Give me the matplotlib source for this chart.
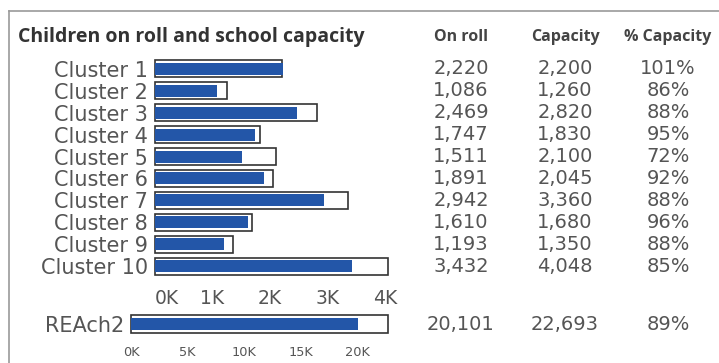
import matplotlib.pyplot as plt
import matplotlib.transforms as mtransforms
from matplotlib.lines import Line2D

clusters = ["Cluster 1", "Cluster 2", "Cluster 3", "Cluster 4", "Cluster 5",
            "Cluster 6", "Cluster 7", "Cluster 8", "Cluster 9", "Cluster 10"]
on_roll = [2220, 1086, 2469, 1747, 1511, 1891, 2942, 1610, 1193, 3432]
capacity = [2200, 1260, 2820, 1830, 2100, 2045, 3360, 1680, 1350, 4048]
pct_capacity = ["101%", "86%", "88%", "95%", "72%", "92%", "88%", "96%", "88%", "85%"]

total_name = "REAch2"
total_on_roll = 20101
total_capacity = 22693
total_pct = "89%"

cluster_ticks = [0, 1000, 2000, 3000, 4000]
cluster_tick_labels = ["0K", "1K", "2K", "3K", "4K"]
total_ticks = [0, 5000, 10000, 15000, 20000]
total_tick_labels = ["0K", "5K", "10K", "15K", "20K"]

plt.rcParams['font.family'] = ['DejaVu Sans']
BOLD = ['Open Sans', 'DejaVu Sans']

W, H = 719, 363
BLUE = "#2356a8"
GREY = "#555555"

fig = plt.figure(figsize=(W / 100, H / 100), dpi=100)


def box(x0, y0, x1, y1):
    # pixel box (top-left origin) -> figure fraction rect
    return [x0 / W, 1 - y1 / H, (x1 - x0) / W, (y1 - y0) / H]


# frame lines
fig.add_artist(Line2D([9 / W, 1], [1 - 11 / H, 1 - 11 / H], color="#9a9a9a", lw=1.2))
fig.add_artist(Line2D([9 / W, 9 / W], [0, 1 - 11 / H], color="#9a9a9a", lw=1.2))

fig.text(18 / W, 1 - 37 / H, "Children on roll and school capacity", family=BOLD,
         fontsize=14, fontweight="bold", color="#333333", va="center")

# cluster bars
ax = fig.add_axes(box(155, 58, 385, 277))
pos = list(range(len(clusters)))
ax.barh(pos, capacity, height=0.78, color="white", edgecolor="#333333",
        linewidth=1.2, clip_on=False)
ax.barh(pos, on_roll, height=0.55, color=BLUE, clip_on=False)
ax.set_xlim(0, 4000)
ax.set_ylim(len(clusters) - 0.5, -0.5)
ax.set_yticks(pos)
ax.set_yticklabels(clusters, fontsize=15, color=GREY)
ax.set_xticks(cluster_ticks)
ax.set_xticklabels(cluster_tick_labels, fontsize=13.5, color=GREY)
ax.get_xticklabels()[0].set_ha("left")
ax.tick_params(axis="y", length=0, pad=5)
ax.tick_params(axis="x", length=0, pad=9)
for s in ax.spines.values():
    s.set_visible(False)

# total bar
ax2 = fig.add_axes(box(131, 313, 391, 335))
ax2.barh([0], [total_capacity], height=0.78, color="white", edgecolor="#333333",
         linewidth=1.2, clip_on=False)
ax2.barh([0], [total_on_roll], height=0.55, color=BLUE, clip_on=False)
ax2.set_xlim(0, 23000)
ax2.set_ylim(0.5, -0.5)
ax2.set_yticks([0])
ax2.set_yticklabels([total_name], fontsize=15, color=GREY)
ax2.set_xticks(total_ticks)
ax2.set_xticklabels(total_tick_labels, fontsize=9.3, color=GREY)
ax2.tick_params(axis="y", length=0, pad=5)
ax2.tick_params(axis="x", length=0, pad=8)
for s in ax2.spines.values():
    s.set_visible(False)

# table columns
col_x = [461, 565, 668]
headers = ["On roll", "Capacity", "% Capacity"]
for cx, h in zip(col_x, headers):
    fig.text(cx / W, 1 - 37 / H, h, family=BOLD, fontsize=11.5, fontweight="bold",
             color="#444444", ha="center", va="center")

tr = mtransforms.blended_transform_factory(fig.transFigure, ax.transData)
for i in pos:
    vals = [f"{on_roll[i]:,}", f"{capacity[i]:,}", pct_capacity[i]]
    for cx, v in zip(col_x, vals):
        ax.text(cx / W, i, v, transform=tr, fontsize=14, color=GREY,
                ha="center", va="center")

tr2 = mtransforms.blended_transform_factory(fig.transFigure, ax2.transData)
for cx, v in zip(col_x, [f"{total_on_roll:,}", f"{total_capacity:,}", total_pct]):
    ax2.text(cx / W, 0, v, transform=tr2, fontsize=14, color=GREY,
             ha="center", va="center")

fig.savefig("out.png", dpi=100)
